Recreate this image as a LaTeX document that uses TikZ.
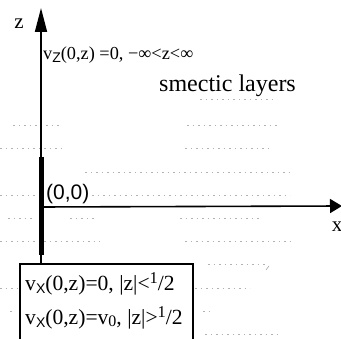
\documentclass[tikz,border=0pt]{standalone}
\usepackage{fontspec}
\setmainfont{Liberation Serif}
\setsansfont{Liberation Sans}
\usetikzlibrary{arrows.meta}
\tikzset{
  axis/.style={line width=1.6pt},
  layer/.style={gray!60,line width=0.6pt,dash pattern=on 1.5pt off 4pt},
  lbl/.style={inner sep=0pt,anchor=west},
}
\newcommand{\sbx}[1]{\raisebox{-3.5pt}{\fontsize{14}{14}\selectfont\sffamily #1}}
\newcommand{\half}{\raisebox{6.5pt}{\fontsize{16.5}{16}\selectfont 1}/2}
\begin{document}
\begin{tikzpicture}[x=1pt,y=-1pt]
\useasboundingbox (0,0) rectangle (341,339);
% smectic layers (faint dotted lines)
\draw[layer] (200,99) -- (272,99);
\draw[layer] (13,125) -- (60,125) (187,125) -- (277,125);
\draw[layer] (0,148) -- (65,148) (185,148) -- (272,148);
\draw[layer] (85,172) -- (290,172);
\draw[layer] (0,195) -- (35,195) (92,195) -- (290,195);
\draw[layer] (8,218) -- (33,218) (70,218) -- (95,218) (180,218) -- (262,218);
\draw[layer] (0,241) -- (100,241) (185,241) -- (290,241);
\draw[layer] (208,264) -- (265,264);
\draw[layer] (0,288) -- (18,288) (195,288) -- (250,288);
\draw[layer] (10,311) -- (14,311) (203,311) -- (212,311);
\draw[layer] (205,334) -- (280,334);
\draw[gray!70,line width=0.6pt] (266,270) -- (269,266);
% axes
\coordinate (O) at (41,207);
\coordinate (zb) at (41,339);
\coordinate (zt) at (41,8);
\coordinate (xt) at (342,206);
\coordinate (tb) at (41,157);
\coordinate (te) at (41,255);
\draw[axis,-{Triangle[length=24pt,width=12pt]}] (zb) -- (zt);
\draw[axis,-{Triangle[length=12pt,width=14pt]}] (O) -- (xt);
\draw[line width=5pt] (tb) -- (te);
% labels
\node[inner sep=0pt] (zl) at (19,24) {\fontsize{21}{21}\selectfont z};
\node[inner sep=0pt] (xl) at (337,227) {\fontsize{21}{21}\selectfont x};
\node[lbl] (vz) at (43,55) {\fontsize{18.3}{18}\selectfont v\sbx{Z}(0,z) =0, −∞<z<∞};
\node[lbl] (sm) at (159,86) {\fontsize{24}{24}\selectfont smectic layers};
\node[lbl] (oo) at (46,194) {\fontsize{21}{21}\selectfont\sffamily (0,0)};
% box
\coordinate (b1) at (20,341);
\coordinate (b2) at (20,264);
\coordinate (b3) at (193,264);
\coordinate (b4) at (193,341);
\draw[line width=1.4pt,fill=white] (b1) -- (b2) -- (b3) -- (b4);
\node[lbl] (l1) at (25,284) {\fontsize{21.6}{22}\selectfont v\sbx{X}(0,z)=0, |z|<\half};
\node[lbl] (l2) at (25,318) {\fontsize{21.6}{22}\selectfont v\sbx{X}(0,z)=v\raisebox{-2pt}{\fontsize{16}{16}\selectfont 0}, |z|>\half};
\end{tikzpicture}
\end{document}
